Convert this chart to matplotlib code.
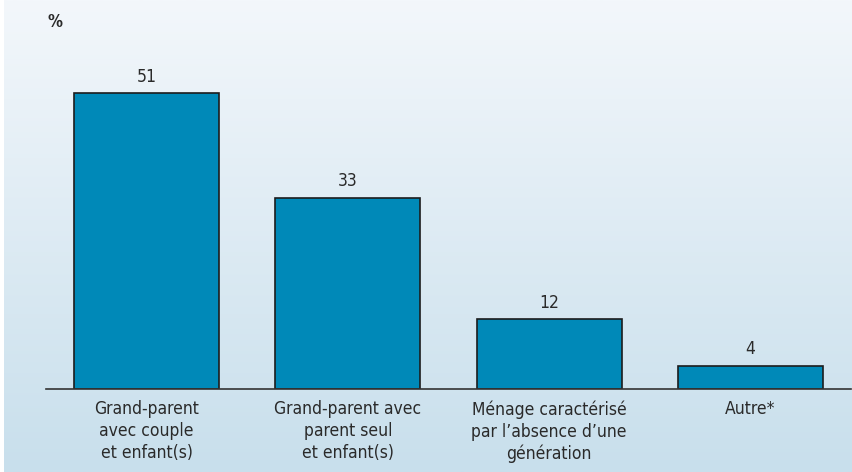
import numpy as np
import matplotlib.pyplot as plt
from matplotlib.colors import LinearSegmentedColormap

categories = ['Grand-parent\navec couple\net enfant(s)',
              'Grand-parent avec\nparent seul\net enfant(s)',
              'Ménage caractérisé\npar l\u2019absence d\u2019une\ngénération',
              'Autre*']
values = [51, 33, 12, 4]

plt.rcParams['font.family'] = ['DejaVu Sans']
plt.rcParams['font.stretch'] = 'condensed'
txt = '#2a2a2a'

fig = plt.figure(figsize=(8.52, 4.72), dpi=100)

# fond en dégradé, blanc bleuté en haut, bleu clair en bas
bg = fig.add_axes([0.005, 0, 0.995, 1], zorder=-10)
cmap = LinearSegmentedColormap.from_list('fond', ['#f3f7fb', '#c8dfec'])
bg.imshow(np.linspace(0, 1, 256).reshape(-1, 1), aspect='auto', cmap=cmap,
          extent=[0, 1, 0, 1])
bg.axis('off')

W, H = 852, 472
x0, x1 = 46, 851
ybase, ytop = 389, 41
ax = fig.add_axes([x0 / W, (H - ybase) / H, (x1 - x0) / W, (ybase - ytop) / H])
ax.patch.set_alpha(0)

x = np.arange(len(values))
bars = ax.bar(x, values, width=0.72, color='#0089b8', edgecolor='#1c1c1c',
              linewidth=1.2, zorder=2)
for b, v in zip(bars, values):
    ax.annotate(str(v), (b.get_x() + b.get_width() / 2, v),
                xytext=(0, 5.5), textcoords='offset points',
                ha='center', va='bottom', fontsize=12.5, color=txt)

ax.set_xlim(-0.5, 3.5)
ax.set_ylim(0, 60)
ax.set_xticks(x)
ax.set_xticklabels(categories, fontsize=12.5, color=txt, linespacing=1.28)
ax.tick_params(axis='x', length=0, pad=8)
ax.set_yticks([])
for s in ['top', 'right', 'left']:
    ax.spines[s].set_visible(False)
ax.spines['bottom'].set_color('#333333')
ax.spines['bottom'].set_linewidth(1.2)
ax.spines['bottom'].set_zorder(3)

fig.text(55 / W, 1 - 22 / H, '%', fontsize=12, fontweight='bold', color=txt,
         ha='center', va='center')

fig.savefig('out.png', dpi=100)
